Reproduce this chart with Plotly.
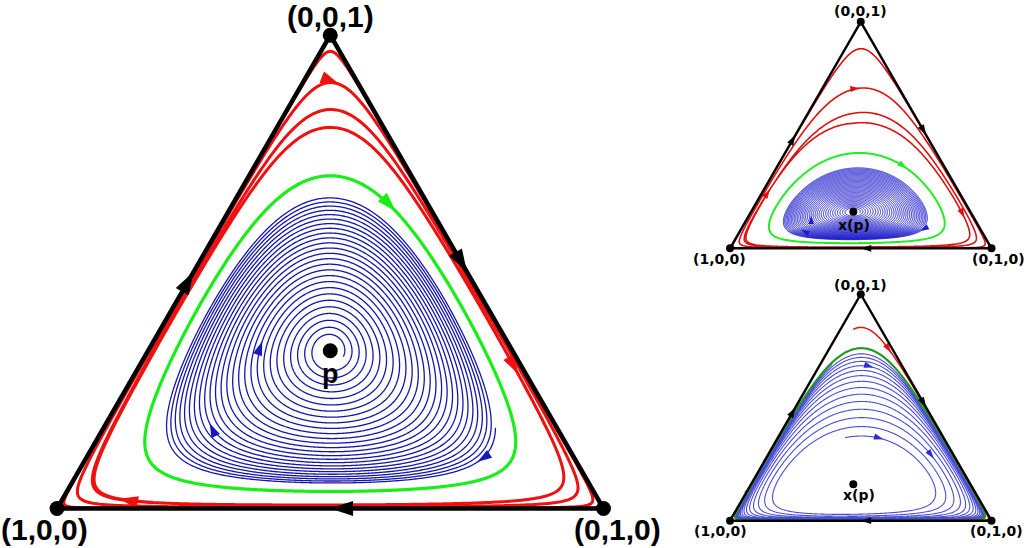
import numpy as np
import plotly.graph_objects as go

# ---------------- values ----------------
# rest point p of each portrait, barycentric (x1, x2, x3)
main_p = [1/3, 1/3, 1/3]
small_p = [0.448, 0.391, 0.161]
orbit_gamma = 2.67     # top/bottom asymmetry of the orbits (in the p-centred frame)

# orbit heights: x3 where an orbit crosses the vertical through p
main_green = 0.703
main_blue = [0.363, 0.662]          # innermost / outermost ring
main_blue_turns = 26
main_blue_outer_deg = -25           # where the outer end of the blue spiral lies
main_red_start = [0.818, 0.169, 0.013]
main_red = [0.805, 0.843, 0.900, 0.966, 0.985]
main_red_end_deg = -1240

tr_green = 0.42
tr_blue = [0.176, 0.358]
tr_blue_turns = 34
tr_blue_outer_deg = -10
tr_red_start = [0.832, 0.161, 0.007]
tr_red = [0.552, 0.596, 0.702, 0.870, 0.930]
tr_red_end_deg = -1240

br_green = 0.757
br_blue = [0.371, 0.746]
br_blue_turns = 14
br_blue_outer_deg = 100
br_red_start = [0.089, 0.032, 0.879]
br_red = [0.845]
br_red_end_deg = -35

# arrow heads: (angle around p in degrees, which pass of the orbit along its path)
main_red_arrows = [(215, 0), (88, 2), (-7, 0)]
main_green_arrows = [(65, 0)]
main_blue_arrows = [(-37, 0), (211, 8), (172, 17)]
tr_red_arrows = [(165, 0), (87, 2), (-3, 0)]
tr_green_arrows = [(39, 0)]
tr_blue_arrows = [(-16, 0), (199, 8), (185, 18)]
br_red_arrows = [(74, 0)]
br_green_arrows = [(181, 0), (45, 0)]
br_blue_arrows = [(80, 10), (56, 0), (18, 2)]

vertex_labels = ["(1,0,0)", "(0,1,0)", "(0,0,1)"]
center_labels = ["p", "x(p)", "x(p)"]

# ---------------- layout of the three triangles (pixels) ----------------
W_PX, H_PX = 1024, 548
SQ3 = np.sqrt(3) / 2
panels = {
    "ternary":  dict(x0=57.0, w=546.5, yb=508.5),
    "ternary2": dict(x0=730.0, w=261.5, yb=248.3),
    "ternary3": dict(x0=730.0, w=261.5, yb=520.7),
}


def cart(x):
    x = np.asarray(x, float)
    return x[..., 1] + 0.5 * x[..., 2], SQ3 * x[..., 2]


class Portrait:
    """Orbits are level curves of H(q(x)), q the p-centred projective frame."""

    def __init__(self, p, gamma):
        self.p = np.asarray(p, float)
        self.gamma = gamma
        self.h0 = self.H(self.p)

    def H(self, x):
        x = np.clip(np.asarray(x, float), 1e-300, None)
        q = x / self.p
        q = q / q.sum(-1, keepdims=True)
        return np.log(q).sum(-1) / 3 - self.gamma * (q[..., 2] - 1/3) ** 3

    def s(self, x):
        return self.h0 - self.H(x)

    def dirs(self, th_deg):
        th = np.radians(th_deg)
        c, sn = np.cos(th), np.sin(th)
        d3 = sn / SQ3
        d2 = c - 0.5 * d3
        d1 = -d2 - d3
        return np.stack([d1, d2, d3], -1)

    def level_points(self, th_deg, s_target):
        th_deg = np.atleast_1d(np.asarray(th_deg, float))
        s_target = np.broadcast_to(np.asarray(s_target, float), th_deg.shape)
        d = self.dirs(th_deg)
        with np.errstate(divide="ignore", invalid="ignore"):
            tb = np.where(d < -1e-12, self.p / np.where(d < -1e-12, -d, 1), np.inf).min(-1)
        lo = np.zeros_like(th_deg)
        hi = tb * (1 - 1e-12)
        for _ in range(64):
            mid = 0.5 * (lo + hi)
            inside = self.s(self.p + mid[:, None] * d) < s_target
            lo = np.where(inside, mid, lo)
            hi = np.where(inside, hi, mid)
        t = 0.5 * (lo + hi)
        return self.p + t[:, None] * d

    def r_cross(self, x3c):
        t = (x3c - self.p[2]) * SQ3
        return float(np.sqrt(self.s(self.p + t * self.dirs(90.0))))

    def r_point(self, x):
        return float(np.sqrt(self.s(np.asarray(x, float))))

    def angle_of(self, x):
        X, Y = cart(x)
        X0, Y0 = cart(self.p)
        return float(np.degrees(np.arctan2(Y - Y0, X - X0)))

    def path(self, th_from, th_to, r_fun, step):
        th = np.arange(th_from, th_to, -step)
        th = np.append(th, th_to)
        r = r_fun(th)
        return th, self.level_points(th, r ** 2)

    def spiral_knots(self, th_knots, r_knots, th_from, th_to, step=0.5):
        tk = -np.asarray(th_knots, float)
        rk = np.asarray(r_knots, float)
        order = np.argsort(tk)
        return self.path(th_from, th_to, lambda th: np.interp(-th, tk[order], rk[order]), step)

    def blue_spiral(self, crosses, turns, th_outer, step=0.5, sat=0.3, inward=True):
        """Spiral between the inner and the outer ring; its outer end sits at th_outer."""
        r_in, r_out = self.r_cross(crosses[0]), self.r_cross(crosses[1])
        span = 360.0 * turns
        if inward:
            th_from, th_to = th_outer, th_outer - span
        else:
            th_from, th_to = th_outer + span, th_outer

        def rf(th):
            v = np.abs(th - (th_to if inward else th_from)) / span   # 0 at inner end
            return r_in + (r_out - r_in) * (1 - np.exp(-sat * v)) / (1 - np.exp(-sat))
        return self.path(th_from, th_to, rf, step)

    def red_spiral(self, start, crosses, th_end, step=0.5):
        th0 = self.angle_of(start)
        if th0 < 90:
            th0 += 360
        ths = [th0] + [90 - 360 * k for k in range(len(crosses))]
        rs = [self.r_point(start)] + [self.r_cross(c) for c in crosses]
        return self.spiral_knots(ths, rs, th0, th_end, step)

    def loop(self, cross, step=0.5):
        r = self.r_cross(cross)
        return self.path(90.0, -272.0, lambda th: np.full_like(th, r), step)


def arrows_on(curve, specs):
    th, pts = curve
    X, Y = cart(pts)
    out_pts, out_ang = [], []
    for ang, k in specs:
        m_hi = np.floor((th[0] - ang) / 360)
        m_lo = np.ceil((th[-1] - ang) / 360)
        occ = [ang + 360 * m for m in np.arange(m_hi, m_lo - 1, -1)]
        t = occ[min(k, len(occ) - 1)]
        i = int(np.argmin(np.abs(th - t)))
        i = min(max(i, 3), len(th) - 4)
        out_pts.append(pts[i])
        out_ang.append(float(np.degrees(np.arctan2(X[i + 3] - X[i - 3], Y[i + 3] - Y[i - 3]))))
    return np.array(out_pts), out_ang


fig = go.Figure()


def add_line(sub, pts, color, width):
    fig.add_trace(go.Scatterternary(
        a=pts[:, 2], b=pts[:, 0], c=pts[:, 1], mode="lines", subplot=sub,
        line=dict(color=color, width=width), cliponaxis=False,
        hoverinfo="skip", showlegend=False))


def add_arrows(sub, pts, angles, color, size):
    fig.add_trace(go.Scatterternary(
        a=pts[:, 2], b=pts[:, 0], c=pts[:, 1], mode="markers", subplot=sub,
        marker=dict(symbol="arrow", size=size, angle=angles, color=color,
                    opacity=1, line=dict(width=0)),
        cliponaxis=False, hoverinfo="skip", showlegend=False))


def edges_and_points(sub, p, edge_arrow_size, dot_size, p_size):
    verts = np.eye(3)
    mids = np.array([(verts[0] + verts[2]) / 2, (verts[2] + verts[1]) / 2, (verts[1] + verts[0]) / 2])
    ang = []
    for a_, b_ in [(0, 2), (2, 1), (1, 0)]:
        Xa, Ya = cart(verts[a_])
        Xb, Yb = cart(verts[b_])
        ang.append(float(np.degrees(np.arctan2(Xb - Xa, Yb - Ya))))
    add_arrows(sub, mids, ang, "black", edge_arrow_size)
    allp = np.vstack([verts, np.asarray(p)[None, :]])
    fig.add_trace(go.Scatterternary(
        a=allp[:, 2], b=allp[:, 0], c=allp[:, 1], mode="markers", subplot=sub,
        marker=dict(size=[dot_size] * 3 + [p_size], color="black", opacity=1, line=dict(width=0)),
        cliponaxis=False, hoverinfo="skip", showlegend=False))


# ---------------- large portrait ----------------
P1 = Portrait(main_p, orbit_gamma)
blue1 = P1.blue_spiral(main_blue, main_blue_turns, main_blue_outer_deg, sat=0.3)
green1 = P1.loop(main_green)
red1 = P1.red_spiral(main_red_start, main_red, main_red_end_deg)
add_line("ternary", blue1[1], "#1616ac", 1.3)
add_line("ternary", green1[1], "#19ee19", 3.2)
add_line("ternary", red1[1], "#f01010", 3.0)
pa, aa = arrows_on(blue1, main_blue_arrows); add_arrows("ternary", pa, aa, "#1818c0", 15)
pa, aa = arrows_on(green1, main_green_arrows); add_arrows("ternary", pa, aa, "#19ee19", 20)
pa, aa = arrows_on(red1, main_red_arrows); add_arrows("ternary", pa, aa, "#f01010", 20)
edges_and_points("ternary", main_p, 24, 15, 15)

# ---------------- upper small portrait ----------------
P2 = Portrait(small_p, orbit_gamma)
blue2 = P2.blue_spiral(tr_blue, tr_blue_turns, tr_blue_outer_deg, step=0.6, sat=0.4)
green2 = P2.loop(tr_green)
red2 = P2.red_spiral(tr_red_start, tr_red, tr_red_end_deg)
add_line("ternary2", blue2[1], "#1a1acc", 0.95)
add_line("ternary2", green2[1], "#22ee22", 2.0)
add_line("ternary2", red2[1], "#e01010", 1.6)
pa, aa = arrows_on(blue2, tr_blue_arrows); add_arrows("ternary2", pa, aa, "#1c1ccc", 9)
pa, aa = arrows_on(green2, tr_green_arrows); add_arrows("ternary2", pa, aa, "#22ee22", 10)
pa, aa = arrows_on(red2, tr_red_arrows); add_arrows("ternary2", pa, aa, "#e01010", 10)
edges_and_points("ternary2", small_p, 11, 8, 8)

# ---------------- lower small portrait ----------------
P3 = Portrait(small_p, orbit_gamma)
blue3 = P3.blue_spiral(br_blue, br_blue_turns, br_blue_outer_deg, step=0.6, sat=1.2, inward=False)
green3 = P3.loop(br_green)
red3 = P3.red_spiral(br_red_start, br_red, br_red_end_deg)
add_line("ternary3", blue3[1], "#4c4cdc", 1.1)
add_line("ternary3", green3[1], "#239b23", 2.2)
add_line("ternary3", red3[1], "#f01010", 1.5)
pa, aa = arrows_on(blue3, br_blue_arrows); add_arrows("ternary3", pa, aa, "#2a2ad8", 10)
pa, aa = arrows_on(green3, br_green_arrows); add_arrows("ternary3", pa, aa, "#239b23", 9)
pa, aa = arrows_on(red3, br_red_arrows); add_arrows("ternary3", pa, aa, "#f01010", 10)
edges_and_points("ternary3", small_p, 11, 8, 8)


# ---------------- axes / domains ----------------
def axis(lw):
    return dict(showline=True, linecolor="black", linewidth=lw, showgrid=False,
                showticklabels=False, ticks="", title=dict(text=""), layer="above traces")


ternaries = {}
for name, g in panels.items():
    h = g["w"] * SQ3
    yc = g["yb"] - h / 2
    half = h / 2 + 6
    lw = 4.5 if name == "ternary" else 2.4
    ternaries[name] = dict(
        domain=dict(x=[g["x0"] / W_PX, (g["x0"] + g["w"]) / W_PX],
                    y=[1 - (yc + half) / H_PX, 1 - (yc - half) / H_PX]),
        bgcolor="rgba(0,0,0,0)", sum=1,
        aaxis=axis(lw), baxis=axis(lw), caxis=axis(lw))


def px_of(name, x):
    g = panels[name]
    X, Y = cart(x)
    return g["x0"] + g["w"] * X, g["yb"] - g["w"] * Y


annotations = []
label_specs = {
    "ternary": dict(font=("Liberation Sans", 30), offs=[(-13, 21), (13.5, 21), (0, -19)],
                    p_off=(0, 23), p_font=("Liberation Sans", 27)),
    "ternary2": dict(font=("DejaVu Sans", 14), offs=[(-10.5, 11), (6.5, 11), (0, -10.5)],
                     p_off=(1, 13), p_font=("DejaVu Sans", 14)),
    "ternary3": dict(font=("DejaVu Sans", 14), offs=[(-10, 10.5), (4.5, 10.5), (0, -9.5)],
                     p_off=(6, 10.5), p_font=("DejaVu Sans", 14)),
}
centers = {"ternary": main_p, "ternary2": small_p, "ternary3": small_p}
for idx, (name, spec) in enumerate(label_specs.items()):
    for v, (dx, dy) in enumerate(spec["offs"]):
        vx, vy = px_of(name, np.eye(3)[v])
        annotations.append(dict(
            x=(vx + dx) / W_PX, y=1 - (vy + dy) / H_PX, xref="paper", yref="paper",
            text="<b>%s</b>" % vertex_labels[v], showarrow=False,
            xanchor="center", yanchor="middle",
            font=dict(family=spec["font"][0], size=spec["font"][1], color="black")))
    cx, cy = px_of(name, centers[name])
    annotations.append(dict(
        x=(cx + spec["p_off"][0]) / W_PX, y=1 - (cy + spec["p_off"][1]) / H_PX,
        xref="paper", yref="paper", text="<b>%s</b>" % center_labels[idx], showarrow=False,
        xanchor="center", yanchor="middle",
        font=dict(family=spec["p_font"][0], size=spec["p_font"][1], color="black")))

fig.update_layout(
    width=W_PX, height=H_PX, autosize=False,
    margin=dict(l=0, r=0, t=0, b=0, pad=0),
    paper_bgcolor="white", plot_bgcolor="white",
    showlegend=False, hovermode=False,
    annotations=annotations,
    **ternaries,
)
fig.write_html("out.html", config={"displayModeBar": False, "staticPlot": True},
               post_script="document.body.style.margin='0px';")
